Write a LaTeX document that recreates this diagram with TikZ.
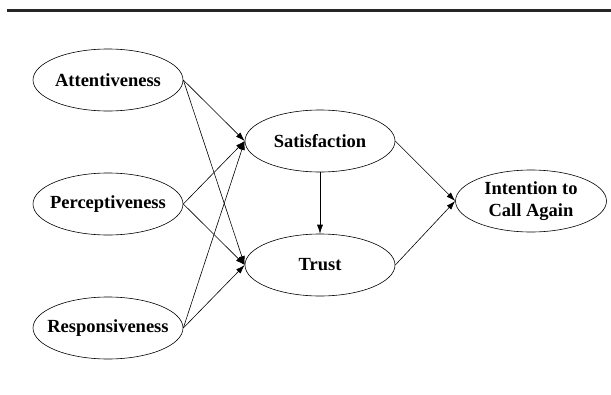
\documentclass[tikz,border=0pt]{standalone}
\usepackage{fontspec}
\setmainfont{Liberation Serif}
\usetikzlibrary{shapes.geometric,arrows.meta}
\begin{document}
\begin{tikzpicture}[x=1pt,y=-1pt,
  ell/.style={draw,ellipse,line width=0.6pt,minimum width=150pt,minimum height=62pt,inner sep=-30pt,font=\fontsize{18.5}{22}\selectfont\bfseries,align=center},
  arr/.style={line width=0.6pt,-{Latex[length=9pt,width=6pt]}}]
\useasboundingbox (0,0) rectangle (611,394);
\draw[line width=3pt,black!85] (7,10.8) -- (611,10.8);
\node[ell] (att) at (108,80) {Attentiveness};
\node[ell] (per) at (108,204) {Perceptiveness};
\node[ell] (res) at (108,328) {Responsiveness};
\node[ell] (sat) at (320,141) {Satisfaction};
\node[ell] (tru) at (320,265) {Trust};
\node[ell,minimum width=151pt] (int) at (531,201) {Intention to\\Call Again};
\draw[arr] (att.east) -- (sat.west);
\draw[arr] (att.east) -- (tru.west);
\draw[arr] (per.east) -- (sat.west);
\draw[arr] (per.east) -- (tru.west);
\draw[arr] (res.east) -- (sat.west);
\draw[arr] (res.east) -- (tru.west);
\draw[arr] (sat.south) -- (tru.north);
\draw[arr] (sat.east) -- (int.west);
\draw[arr] (tru.east) -- (int.west);
\end{tikzpicture}
\end{document}
